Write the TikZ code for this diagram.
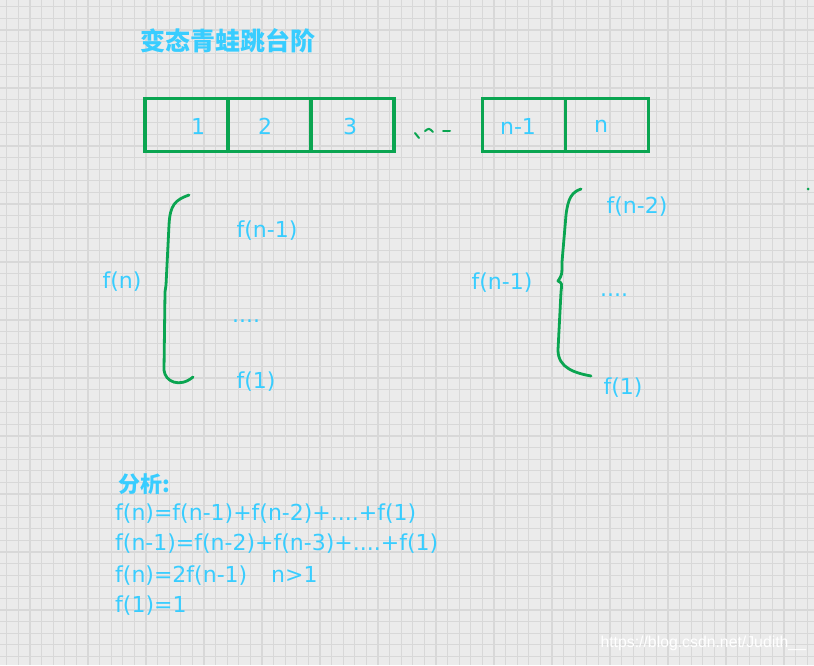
\documentclass[tikz,border=0pt]{standalone}
\usepackage{fontspec}
\usepackage{tikz}
\usetikzlibrary{positioning}
\usepackage{color,xcolor}
\setmainfont{DejaVu Sans}
\newfontfamily\cjk{Noto Sans CJK SC}
\newfontfamily\wmfont{Liberation Sans}
\definecolor{bg}{HTML}{EBEBEB}
\definecolor{gl}{HTML}{D8D8D8}
\definecolor{ln}{HTML}{0AA551}
\definecolor{tx}{HTML}{38CDFF}

\tikzset{
  cell/.style={draw=ln,line width=3.2pt,minimum width=83pt,minimum height=53pt,inner sep=0pt,outer sep=0pt},
  handtext/.style={text=tx,font=\fontsize{22}{26}\selectfont,inner sep=0pt},
  stroke/.style={draw=ln,line width=2.8pt,line cap=round,line join=round}
}

\begin{document}
\begin{tikzpicture}[x=1pt,y=-1pt]
            \useasboundingbox (0,0) rectangle (814,665);
            \fill[bg] (0,0) rectangle (814,665);
            \foreach \i in {0,...,69} \draw[gl,line width=1.2pt] ({6.7+11.6*\i},0) -- ({6.7+11.6*\i},665);
            \foreach \j in {0,...,56} \draw[gl,line width=1.2pt] (0,{6.7+11.6*\j}) -- (814,{6.7+11.6*\j});
            \node[text=tx,font=\cjk\bfseries\fontsize{25}{29}\selectfont,anchor=west] (title) at (137,41) {变态青蛙跳台阶};
            % steps
            \node[cell] (c1) at (186.5,125) {};
            \node[cell,right=0pt of c1] (c2) {};
            \node[cell,right=0pt of c2] (c3) {};
            \node[cell] (cn1) at (524,125) {};
            \node[cell,right=0pt of cn1] (cn) {};
            \node[handtext] (t1) at (198,126) {1};
            \node[handtext] (t2) at (265,126) {2};
            \node[handtext] (t3) at (350,126) {3};
            \node[handtext] (tn1) at (518,126) {n-1};
            \node[handtext] (tn) at (601,126) {n};
            \draw[stroke,line width=2pt] (415,133) -- (419,138);
            \draw[stroke,line width=2pt] (425,131) .. controls (429,128) .. (433,132);
            \draw[stroke,line width=2pt] (443,131) -- (450,131);
            % f(n)
            \node[handtext] (fn) at (122,282) {f(n)};
            \node[handtext] (fa1) at (267,231) {f(n-1)};
            \node[handtext] (fa2) at (246,321) {....};
            \node[handtext] (fa3) at (256,382) {f(1)};
            \draw[stroke] (189,195) .. controls (175,200) and (170,205) .. (169,225) -- (166,285) -- (165,292) -- (164,370)
              .. controls (165,382) and (180,388) .. (193,377);
            % f(n-1)
            \node[handtext] (fm) at (502,283) {f(n-1)};
            \node[handtext] (fb1) at (637,207) {f(n-2)};
            \node[handtext] (fb2) at (614,295) {....};
            \node[handtext] (fb3) at (623,388) {f(1)};
            \draw[stroke] (581,189) .. controls (572,192) and (568,198) .. (566,215) -- (562,262)
              .. controls (562,275) .. (558,281) .. controls (562,283) .. (561,292) -- (558,350)
              .. controls (558,368) and (575,373) .. (591,376);
            \fill[ln] (808,189) circle (1.5pt);
            % analysis
            \node[text=tx,font=\cjk\bfseries\fontsize{22}{26}\selectfont,anchor=west] (an) at (115,484) {分析:};
            \node[handtext,anchor=west] (l1) at (115,514) {f(n)=f(n-1)+f(n-2)+....+f(1)};
            \node[handtext,anchor=west] (l2) at (115,544) {f(n-1)=f(n-2)+f(n-3)+....+f(1)};
            \node[handtext,anchor=west] (l3) at (115,576) {f(n)=2f(n-1)\hspace{24pt}n>1};
            \node[handtext,anchor=west] (l4) at (115,606) {f(1)=1};
            \node[text=white,font=\wmfont\fontsize{15.8}{18}\selectfont,anchor=west] (wm) at (597,643) {https://blog.csdn.net/Judith\_\_};
          \end{tikzpicture}
\end{document}
